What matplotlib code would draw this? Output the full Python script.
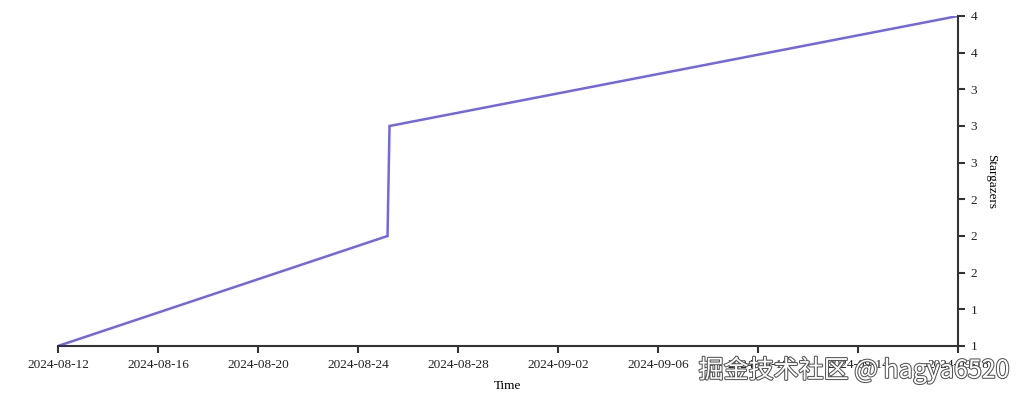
import matplotlib
matplotlib.use("Agg")
import matplotlib.pyplot as plt
import matplotlib.dates as mdates
import matplotlib.patheffects as pe
import numpy as np
from datetime import datetime

# Data
times = [datetime(2024, 8, 12, 6, 0), datetime(2024, 8, 26, 1, 0),
         datetime(2024, 8, 26, 3, 0), datetime(2024, 9, 18, 22, 0)]
stargazers = [1, 2, 3, 4]

plt.rcParams['font.family'] = ['Liberation Serif', 'DejaVu Serif']

fig = plt.figure(figsize=(10.24, 4.0), dpi=100)
ax = fig.add_axes([58/1024, 54/400, 900/1024, 330/400])

xnum = mdates.date2num(times)
ax.plot(xnum, stargazers, color='#7366e6', lw=1.8, solid_joinstyle='miter')

ax.set_xlim(xnum[0], xnum[-1])
ax.set_ylim(1, 4)

ax.set_xticks(np.linspace(xnum[0], xnum[-1], 10))
ax.xaxis.set_major_formatter(mdates.DateFormatter('%Y-%m-%d'))
yt = np.linspace(1, 4, 10)
ax.set_yticks(yt)
ax.set_yticklabels([f"{v:.0f}" for v in yt])

ax.yaxis.tick_right()
ax.yaxis.set_label_position('right')
for s in ['top', 'left']:
    ax.spines[s].set_visible(False)
for s in ['bottom', 'right']:
    ax.spines[s].set_color('#333333')
    ax.spines[s].set_linewidth(1.5)
ax.tick_params(axis='both', colors='#333333', labelcolor='#222222', length=5,
               width=1.5, labelsize=9.5, pad=4)

ax.set_xlabel('Time', fontsize=9.5, labelpad=7)
ax.set_ylabel('Stargazers', fontsize=9.5, rotation=270, labelpad=14)

fig.text(0.986, 0.075, '掘金技术社区 @ hagya6520', ha='right', va='center',
         fontsize=18, color='white', family=['Noto Sans CJK SC', 'DejaVu Sans'],
         path_effects=[pe.withStroke(linewidth=1.5, foreground='#555555')])

fig.savefig('out.png', dpi=100)
